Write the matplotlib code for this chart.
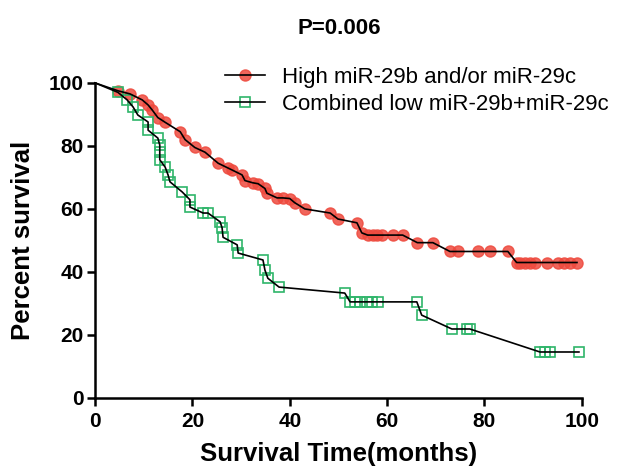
import matplotlib
matplotlib.use("Agg")
import matplotlib.pyplot as plt
from matplotlib.lines import Line2D

plt.rcParams['font.family'] = ['Liberation Sans', 'DejaVu Sans']

# Survival data (months, percent survival)
high_t = [4.7, 7.2, 9.7, 10.9, 11.7, 12.9, 14.4, 17.5, 18.5, 20.5, 22.6, 25.3, 27.3, 28.1,
          30.2, 30.8, 32.4, 33.5, 34.9, 35.3, 37.4, 38.6, 40.0, 41.0, 43.1, 48.3, 49.9,
          53.8, 54.8, 56.0, 57.0, 58.0, 59.0, 61.2, 63.2, 66.2, 69.4, 72.9, 74.5, 78.6,
          81.1, 84.8, 86.6, 87.3, 88.3, 89.3, 90.3, 92.8, 95.0, 96.3, 97.5, 99.0]
high_s = [97.5, 96.5, 94.6, 93.0, 91.5, 89.0, 87.5, 84.5, 82.0, 79.5, 78.0, 74.5, 73.0, 72.4,
          70.8, 69.0, 68.3, 68.0, 66.5, 65.0, 63.5, 63.5, 63.3, 62.0, 60.0, 58.7, 56.8,
          55.6, 52.4, 51.7, 51.7, 51.7, 51.7, 51.7, 51.7, 49.3, 49.3, 46.5, 46.5, 46.5,
          46.5, 46.5, 43.0, 43.0, 43.0, 43.0, 43.0, 43.0, 43.0, 43.0, 43.0, 43.0]

low_t = [4.7, 6.6, 7.8, 8.8, 10.9, 10.9, 12.9, 13.3, 13.3, 13.3, 14.4, 15.0, 15.4, 17.9,
         19.5, 19.5, 22.2, 23.2, 25.7, 26.1, 26.3, 29.2, 29.4, 34.5, 34.9, 35.5, 37.8,
         51.3, 52.4, 53.4, 54.4, 55.9, 56.9, 58.1, 66.1, 67.1, 73.3, 76.4, 77.0, 91.4,
         92.4, 93.4, 99.4]
low_s = [97.0, 94.6, 92.4, 89.8, 87.6, 85.0, 82.5, 80.3, 78.0, 75.6, 73.3, 70.8, 68.6, 65.4,
         62.9, 60.6, 58.7, 58.7, 55.9, 54.0, 51.0, 48.6, 46.0, 43.8, 40.6, 38.0, 35.2,
         33.3, 30.5, 30.5, 30.5, 30.5, 30.5, 30.5, 30.5, 26.3, 21.9, 21.9, 21.9, 14.6,
         14.6, 14.6, 14.6]

labels = ["High miR-29b and/or miR-29c", "Combined low miR-29b+miR-29c"]
title = "P=0.006"
xticks = [0, 20, 40, 60, 80, 100]
yticks = [0, 20, 40, 60, 80, 100]

red = '#ee4a3e'
green = '#2fb56a'

fig = plt.figure(figsize=(6.19, 4.71), dpi=100)
ax = fig.add_axes([0.1535, 0.155, 0.7865, 0.669])

# markers
ax.plot(high_t, high_s, linestyle='none', marker='o', markersize=8,
        markerfacecolor=red, markeredgecolor=red, alpha=0.85, zorder=2, clip_on=False)
ax.plot(low_t, low_s, linestyle='none', marker='s', markersize=7.5,
        markerfacecolor='none', markeredgecolor=green, markeredgewidth=1.2, zorder=2,
        clip_on=False)
# connecting lines
ax.plot([0] + high_t, [100] + high_s, color='black', lw=1.2, zorder=3, clip_on=False)
ax.plot([0] + low_t, [100] + low_s, color='black', lw=1.2, zorder=3, clip_on=False)

ax.set_xlim(0, 100)
ax.set_ylim(0, 100)
ax.set_xticks(xticks)
ax.set_yticks(yticks)
for s in ['top', 'right']:
    ax.spines[s].set_visible(False)
for s in ['left', 'bottom']:
    ax.spines[s].set_linewidth(1.8)
ax.tick_params(direction='out', length=6, width=1.8, labelsize=15, pad=2)
for lab in ax.get_xticklabels() + ax.get_yticklabels():
    lab.set_fontweight('bold')
ax.tick_params(axis='x', pad=4)

ax.set_xlabel("Survival Time(months)", fontsize=18.5, fontweight='bold', labelpad=8)
ax.set_ylabel("Percent survival", fontsize=18.5, fontweight='bold', labelpad=10)
fig.text(0.548, 0.94, title, fontsize=16, fontweight='bold', ha='center', va='center')

h1 = (Line2D([], [], linestyle='none', marker='o', markersize=8, markerfacecolor=red,
             markeredgecolor=red, alpha=0.85),
      Line2D([], [], color='black', lw=1.2))
h2 = (Line2D([], [], linestyle='none', marker='s', markersize=7.5, markerfacecolor='none',
             markeredgecolor=green, markeredgewidth=1.2),
      Line2D([], [], color='black', lw=1.2))
leg = fig.legend([h1, h2], labels, loc='center left', bbox_to_anchor=(0.345, 0.807),
                 frameon=False, fontsize=16, handlelength=1.8, handletextpad=0.8,
                 labelspacing=0.3, borderpad=0)

fig.savefig("out.png", dpi=100)
